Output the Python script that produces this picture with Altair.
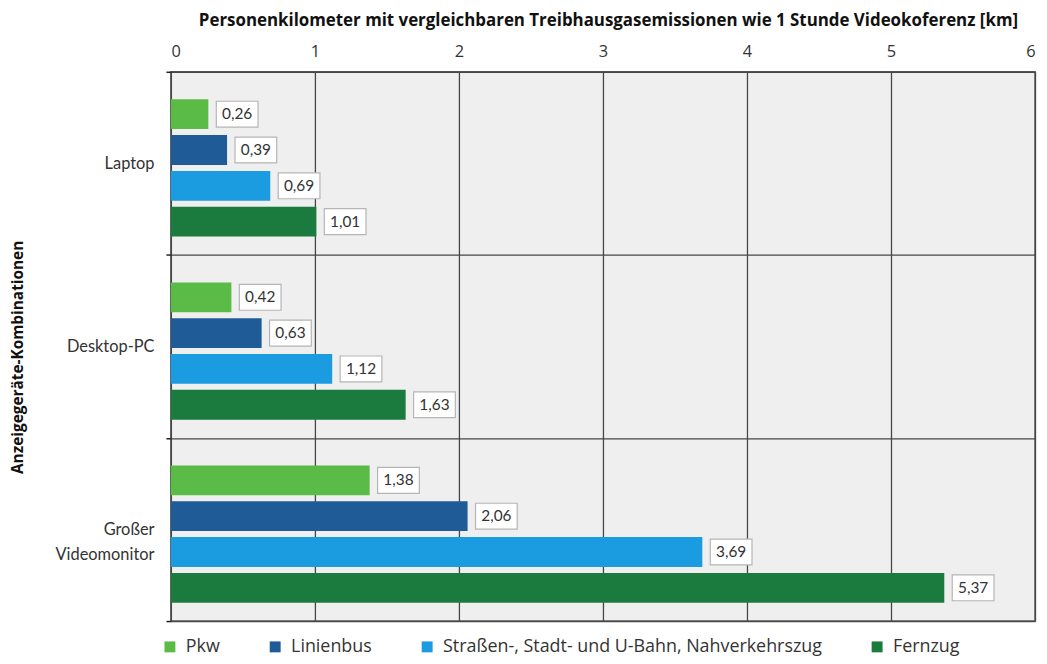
import altair as alt
import pandas as pd

categories = ["Laptop", "Desktop-PC", "Großer Videomonitor"]
series = ["Pkw", "Linienbus", "Straßen-, Stadt- und U-Bahn, Nahverkehrszug", "Fernzug"]
colors = ["#5bbb47", "#1f5c97", "#1b9be0", "#1b7a3e"]
pkw = [0.26, 0.42, 1.38]
linienbus = [0.39, 0.63, 2.06]
bahn = [0.69, 1.12, 3.69]
fernzug = [1.01, 1.63, 5.37]
x_ticks = [0, 1, 2, 3, 4, 5, 6]

rows = []
for i, c in enumerate(categories):
    for s, vals in zip(series, [pkw, linienbus, bahn, fernzug]):
        rows.append({"Kategorie": c, "Serie": s, "Wert": vals[i]})
df = pd.DataFrame(rows)
df["Label"] = df["Wert"].map(lambda v: f"{v:.2f}".replace(".", ","))

FONT = "Lato"
WIDE = "Open Sans"
GRID = "#474747"

parts = categories[2].split(" ")
top = parts[0] + "\u00a0" * 6
label_expr = f"datum.value == '{categories[2]}' ? ['{top}', '{parts[1]}'] : datum.value"

y_enc = alt.Y(
    "Kategorie:N",
    sort=categories,
    scale=alt.Scale(paddingInner=0, paddingOuter=0),
    axis=alt.Axis(
        title="Anzeigegeräte-Kombinationen",
        titleFont=WIDE, titleFontSize=15.5, titleFontWeight="bold", titleColor="#111",
        titleAngle=270, titleX=-154, titleY=287, titleAlign="center", titleBaseline="middle",
        labelFont=FONT, labelFontSize=16.5, labelColor="#333", labelLimit=300,
        labelExpr=label_expr, labelLineHeight=25,
        tickBand="extent", tickSize=5, tickColor="#222", tickWidth=1.5,
        labelPadding=12, domain=False,
        grid=True, gridColor=GRID, gridWidth=1.3,
    ),
)
yoff = alt.YOffset(
    "Serie:N", sort=series,
    scale=alt.Scale(paddingInner=0.167, paddingOuter=0.64, align=0.6),
)
x_enc = alt.X(
    "Wert:Q",
    scale=alt.Scale(domain=[0, 6], nice=False),
    axis=alt.Axis(
        orient="top", values=x_ticks, format="d",
        title="Personenkilometer mit vergleichbaren Treibhausgasemissionen  wie 1 Stunde Videokoferenz [km]",
        titleFont=WIDE, titleFontSize=17, titleFontWeight="bold", titleColor="#111",
        titleX=440, titleY=-52, titleAlign="center", titleBaseline="middle",
        labelFont=WIDE, labelFontSize=16.5, labelColor="#333", labelPadding=12,
        ticks=False, domain=False,
        grid=True, gridColor=GRID, gridWidth=1.3,
    ),
)

base = alt.Chart(df)

bars = base.mark_bar().encode(
    x=x_enc,
    y=y_enc,
    yOffset=yoff,
    color=alt.Color(
        "Serie:N",
        sort=series,
        scale=alt.Scale(domain=series, range=colors),
        legend=alt.Legend(
            title=None, orient="none", legendX=-10, legendY=570,
            direction="horizontal", columns=4, columnPadding=46,
            symbolType="square", symbolSize=121, symbolStrokeWidth=0,
            labelFont=WIDE, labelFontSize=18, labelColor="#333", labelLimit=500,
            labelOffset=7,
        ),
    ),
)

box_shape = "M-1,-0.62L1,-0.62L1,0.62L-1,0.62Z"
boxes = base.mark_point(
    shape=box_shape, size=1764, filled=True, fill="white", opacity=1,
    stroke="#b5b5b5", strokeWidth=1.2, xOffset=29,
).encode(x="Wert:Q", y=alt.Y("Kategorie:N", sort=categories), yOffset=yoff)

texts = base.mark_text(
    font=FONT, fontSize=15.5, color="#333", xOffset=29, align="center", baseline="middle",
).encode(x="Wert:Q", y=alt.Y("Kategorie:N", sort=categories), yOffset=yoff, text="Label:N")

chart = (
    alt.layer(bars, boxes, texts)
    .properties(
        width=870, height=553,
        autosize=alt.AutoSizeParams(type="none"),
        padding={"left": 164, "top": 62, "right": 4, "bottom": 40},
        background="white",
    )
    .configure_view(fill="#efefef", stroke="#555555", strokeWidth=1.5)
)

chart.save("out.html", embed_options={"renderer": "svg", "actions": False})
